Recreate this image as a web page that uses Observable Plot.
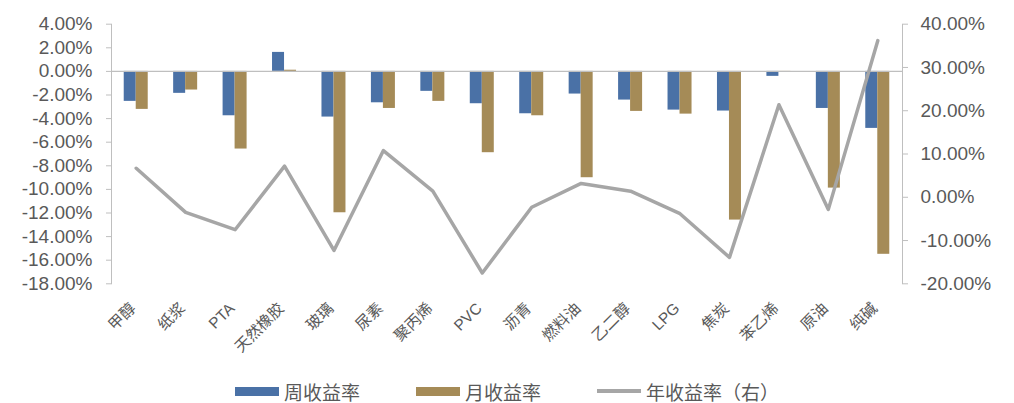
<!DOCTYPE html>
<html><head><meta charset="utf-8">
<script src="https://cdn.jsdelivr.net/npm/d3@7"></script>
<script src="https://cdn.jsdelivr.net/npm/@observablehq/plot@0.6"></script>
<style>
body{margin:0;background:#fff;font-family:"Liberation Sans","Noto Sans CJK SC",sans-serif;}
#chart svg{display:block;}
#legend{display:flex;justify-content:center;align-items:center;height:26px;font-size:19px;color:#595959;font-family:"Noto Sans CJK SC","Liberation Sans",sans-serif;}
.item{display:flex;align-items:center;margin:0 28px;}
.sw{display:inline-block;width:44px;margin-right:5px;}
</style></head><body><div id="chart"></div><div id="legend"></div><script>
const categories = ["甲醇","纸浆","PTA","天然橡胶","玻璃","尿素","聚丙烯","PVC","沥青","燃料油","乙二醇","LPG","焦炭","苯乙烯","原油","纯碱"];
const weekly  = [-2.54,-1.86,-3.76, 1.61,-3.87,-2.66,-1.69,-2.74,-3.59,-1.92,-2.43,-3.28,-3.36,-0.42,-3.14,-4.83];
const monthly = [-3.22,-1.58,-6.58, 0.10,-11.98,-3.14,-2.54,-6.89,-3.76,-9.01,-3.39,-3.62,-12.60,-0.05,-9.89,-15.50];
const yearly  = [ 6.7,-3.5,-7.5, 7.2,-12.3,10.8, 1.4,-17.5,-2.3, 3.2, 1.4,-3.8,-13.9,21.4,-2.8,36.2];
const leftTicks  = [4,2,0,-2,-4,-6,-8,-10,-12,-14,-16,-18];
const rightTicks = [40,30,20,10,0,-10,-20];
const seriesNames = ["周收益率","月收益率","年收益率（右）"];
const colors = ["#4A71A6","#A58B57","#A6A6A6"];

const L0=-18, L1=4, R0=-20, R1=40;
const toLeft = r => L0 + (r - R0) * (L1 - L0) / (R1 - R0);
const toRight = v => R0 + (v - L0) * (R1 - R0) / (L1 - L0);

const W=1014, H=378, mL=111, mR=112, mT=23.7, mB=H-283.3;
const bandW = (W - mL - mR) / categories.length;
const barW = 12;
const data = categories.map((c,i)=>({c, w:weekly[i], m:monthly[i], y:yearly[i]}));
const pct = v => v.toFixed(2) + "%";

const chart = Plot.plot({
  width: W, height: H,
  marginLeft: mL, marginRight: mR, marginTop: mT, marginBottom: mB,
  style: {fontFamily: '"Liberation Sans","Noto Sans CJK SC",sans-serif', fontSize: "19px", color: "#595959", background: "#fff", overflow: "visible"},
  x: {domain: categories, padding: 0, round: false, axis: null},
  y: {domain: [L0, L1], axis: null},
  marks: [
    Plot.barY(data, {x: "c", y: "w", fill: colors[0], insetLeft: bandW/2 - barW, insetRight: bandW/2}),
    Plot.barY(data, {x: "c", y: "m", fill: colors[1], insetLeft: bandW/2, insetRight: bandW/2 - barW}),
    Plot.ruleY([0], {stroke: "#BFBFBF", strokeWidth: 1.3}),
    Plot.frame({anchor: "left", stroke: "#BFBFBF"}),
    Plot.frame({anchor: "right", stroke: "#BFBFBF"}),
    Plot.axisY(leftTicks, {anchor: "left", tickSize: 5, tickPadding: 14, stroke: "#BFBFBF", fill: "#595959", tickFormat: pct, label: null}),
    Plot.axisY(rightTicks.map(toLeft), {anchor: "right", tickSize: 5, tickPadding: 13, stroke: "#BFBFBF", fill: "#595959", tickFormat: v => pct(Math.round(toRight(v))), label: null}),
    Plot.lineY(data, {x: "c", y: d => toLeft(d.y), stroke: colors[2], strokeWidth: 3.5}),
    Plot.text(data, {x: "c", y: () => L0, text: "c", rotate: -45, textAnchor: "end", lineAnchor: "middle", dx: -3, dy: 22, fontSize: 15.5, fill: "#595959", fontFamily: '"Liberation Sans","Noto Sans CJK SC",sans-serif'})
  ]
});
document.getElementById("chart").appendChild(chart);

const lg = document.getElementById("legend");
seriesNames.forEach((n,i)=>{
  const it = document.createElement("div"); it.className="item";
  const sw = document.createElement("span"); sw.className="sw";
  sw.style.height = i < 2 ? "9px" : "3.5px";
  sw.style.background = colors[i];
  it.appendChild(sw);
  const t = document.createElement("span"); t.textContent = n;
  it.appendChild(t);
  lg.appendChild(it);
});
</script></body></html>
